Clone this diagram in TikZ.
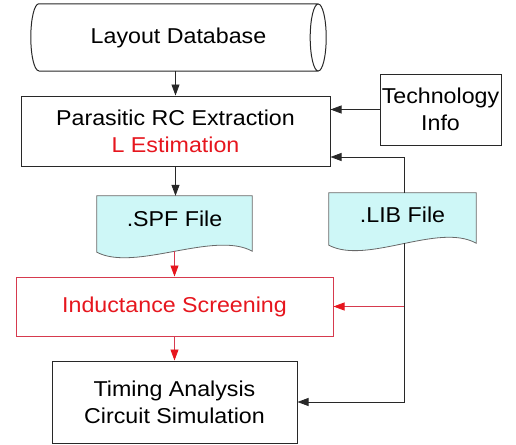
\documentclass[tikz,border=0pt]{standalone}
\usepackage{fontspec}
\setmainfont{Liberation Sans}[FakeStretch=1.08]
\usetikzlibrary{arrows.meta,backgrounds}

\definecolor{redtxt}{RGB}{230,22,30}
\definecolor{redline}{RGB}{214,58,78}
\definecolor{filefill}{RGB}{206,247,247}
\definecolor{boxline}{RGB}{40,40,40}

\tikzset{
  flowbox/.style={draw=boxline, line width=1pt, rectangle, align=center, inner sep=0pt},
  redbox/.style={draw=redline, line width=1pt, rectangle, align=center, inner sep=0pt, text=redtxt},
  filebox/.style={rectangle, inner sep=0pt, align=center},
  arr/.style={draw=boxline, line width=0.8pt, -{Triangle[length=11pt,width=8pt]}},
  redarr/.style={draw=redline, line width=0.8pt, -{Triangle[length=11pt,width=8pt,color=redtxt]}},
}

% background of a document-shaped file node: #1 name, #2 right drop, #3 left drop
% (yscale=-1, so a positive yshift goes down)
\newcommand{\docback}[3]{%
  \filldraw[fill=filefill, draw=boxline!70, line width=0.8pt]
    (#1.north west) -- (#1.north east) -- ([yshift=#2pt]#1.south east)
    .. controls +(-38,-21) and +(38,20) .. ([yshift=#3pt]#1.south west) -- cycle;}

\begin{document}
\begin{tikzpicture}[x=1pt,y=1pt,yscale=-1,font=\fontsize{21.5}{27}\selectfont]
\useasboundingbox (0,0) rectangle (516,444);

% Layout database (drum drawn round the node)
\node[rectangle, inner sep=0pt, minimum width=279pt, minimum height=67pt] (db) at (178.5,37.5) {Layout Database};
\draw[boxline, line width=1pt] (db.north west) -- (db.north east)
  (db.south west) -- (db.south east)
  (db.north west) arc[start angle=-90, end angle=-270, x radius=8, y radius=33.5]
  (db.east) ellipse[x radius=8, y radius=33.5];

% Extraction and technology
\node[flowbox, minimum width=309pt, minimum height=70pt] (pex) at (175.5,131)
  {Parasitic RC Extraction\\\textcolor{redtxt}{L Estimation}};
\node[flowbox, minimum width=121pt, minimum height=71pt] (tech) at (440.5,109.5)
  {Technology\\Info};

% File nodes
\node[filebox, minimum width=155pt, minimum height=46pt] (spf) at (174.5,219) {.SPF File};
\node[filebox, minimum width=147pt, minimum height=44pt] (lib) at (402.5,215) {.LIB File};
\begin{scope}[on background layer]
  \docback{spf}{9}{10}
  \docback{lib}{6}{8}
\end{scope}
\coordinate (spf-b) at (174.5,251);
\coordinate (lib-b) at (404,243);

% Screening and timing
\node[redbox, minimum width=317pt, minimum height=59pt] (ind) at (174.5,306.5) {Inductance Screening};
\node[flowbox, minimum width=245pt, minimum height=82pt] (tim) at (174.5,402)
  {Timing Analysis\\Circuit Simulation};

% Connectors
\draw[arr] (db.south -| pex.north) -- (pex.north);
\draw[arr] (tech.west) -- (tech.west -| pex.east);
\draw[arr] (pex.south) -- (pex.south |- spf.north);
\draw[arr] (lib.north -| lib-b) |- ([yshift=26pt]pex.east);
\draw[arr] (lib-b) |- (tim.east);
\draw[redarr] (lib-b |- ind.east) -- (ind.east);
\draw[redarr] (spf-b) -- (spf-b |- ind.north);
\draw[redarr] (ind.south) -- (tim.north);

\end{tikzpicture}
\end{document}
